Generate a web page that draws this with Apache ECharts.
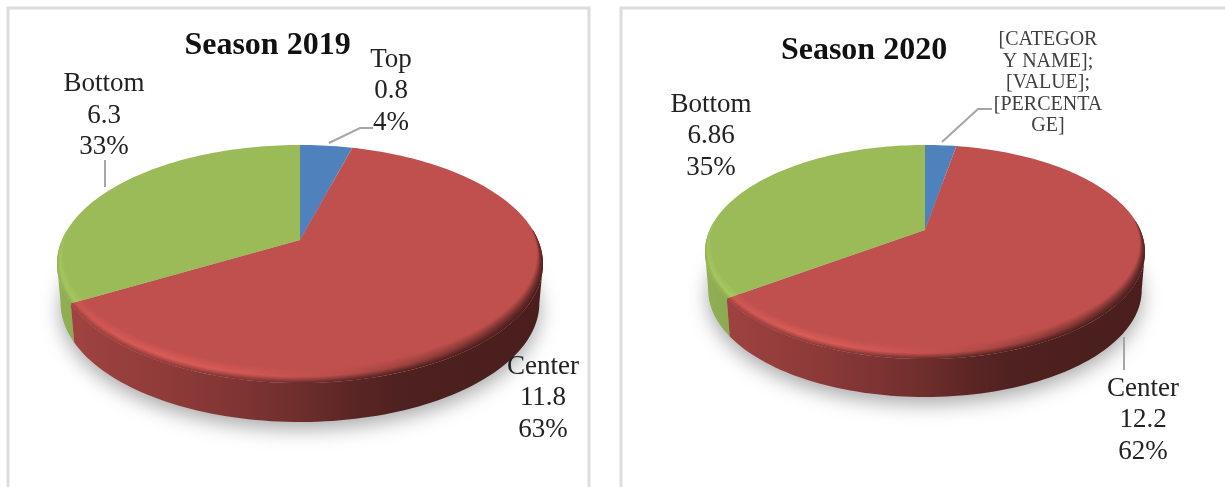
<!DOCTYPE html>
<html><head><meta charset="utf-8">
<style>html,body{margin:0;padding:0;background:#fff}#c{width:1225px;height:487px}</style>
<script src="https://cdn.jsdelivr.net/npm/echarts@6/dist/echarts.min.js"></script>
</head><body><div id="c"></div>
<script>
const categories = ['Top', 'Center', 'Bottom'];
const values2019 = [0.8, 11.8, 6.3];
const values2020 = [0.55, 12.2, 6.86];
const percents2019 = ['4%', '63%', '33%'];
const percents2020 = ['3%', '62%', '35%'];
const valueText2019 = ['0.8', '11.8', '6.3'];
const valueText2020 = ['[VALUE]', '12.2', '6.86'];
const placeholderLabel = '[CATEGOR\nY NAME];\n[VALUE];\n[PERCENTA\nGE]';
const sliceColors = ['#4f81bd', '#c0504d', '#9bbb59'];

const panels = [
  { title:'Season 2019', titleX:262.5, titleY:25, values:values2019, vt:valueText2019, pc:percents2019,
    cx:300, cy:240, rx:243, back:95, front:143, depth:39,
    labels:[{x:391,y:91},{x:543,y:398},{x:104,y:115.5}],
    leaders:[[[329,143],[360,128],[373,128]], null, [[105,160],[105,187]]] },
  { title:'Season 2020', titleX:859, titleY:30, values:values2020, vt:valueText2020, pc:percents2020,
    cx:925, cy:230, rx:220, back:85, front:129, depth:38, placeholderTop:true,
    labels:[{x:1048,y:83},{x:1143,y:420},{x:711,y:136}],
    leaders:[[[942,142],[978,109],[992,109]], [[1124,337],[1124,370]], null] }
];

const sideStops = [[0,.85],[.15,.78],[.35,.68],[.5,.57],[.62,.46],[.72,.40],[1,.38]];
const highStops = [[0,1.05],[.1,1.1],[.25,1.16],[.45,1.06],[.6,.95],[.75,.78],[.9,.6],[1,.55]];
const RAD = Math.PI/180, STEP = 1.5, BEVEL = 0.085, LAYERS = 18;

function interp(st, p){
  for(let i=1;i<st.length;i++) if(p<=st[i][0]){
    const a=st[i-1],b=st[i]; return a[1]+(b[1]-a[1])*(p-a[0])/(b[0]-a[0]);
  }
  return st[st.length-1][1];
}
function shade(hex,f){
  const n=parseInt(hex.slice(1),16);
  const c=[n>>16,(n>>8)&255,n&255].map(v=>Math.min(255,Math.round(v*f)));
  return 'rgb('+c.join(',')+')';
}
function geom(p){
  const k=(p.front-p.back)/(p.front+p.back);
  return {k, a:p.back*(1+k), b:p.rx*Math.sqrt(1-k*k)};
}
function proj(p,g,rho,deg){
  const u=rho*Math.sin(deg*RAD), v=rho*Math.cos(deg*RAD), d=1+g.k*v;
  return [p.cx+g.b*u/d, p.cy-g.a*v/d];
}
function weight(deg){
  const v=Math.cos(deg*RAD);
  return Math.max(0,Math.min(1,(0.15-v)/1.15));
}
function angles(from,to){
  const out=[]; for(let d=from;d<to;d+=STEP) out.push(d); out.push(to); return out;
}
function grad(p,fn,base){
  const xs=[0,.1,.2,.3,.4,.5,.6,.7,.8,.9,1];
  return {type:'linear',global:true,x:p.cx-p.rx,y:0,x2:p.cx+p.rx,y2:0,
    colorStops:xs.map(o=>({offset:o,color:shade(base,fn(o))}))};
}
function renderSlice(p){
  return function(params,api){
    const i=params.dataIndex, g=geom(p);
    const total=p.values.reduce((s,v)=>s+v,0);
    let start=0; for(let j=0;j<i;j++) start+=p.values[j]/total*360;
    const end=start+api.value(0)/total*360, base=sliceColors[i];
    const boost=i===2?1.1:1;
    const kids=[];
    // soft floor shadow
    if(i===0){
      const pts=angles(0,360).map(d=>{const q=proj(p,g,1,d);return [p.cx+(q[0]-p.cx)*.985,q[1]+p.depth];});
      kids.push({type:'polygon',z2:1,shape:{points:pts},
        style:{fill:'#bdbdbd',shadowBlur:20,shadowColor:'rgba(0,0,0,.34)',shadowOffsetY:7}});
    }
    // side wall
    const right=Math.acos(-g.k)/RAD, left=360-right;
    const s0=Math.max(start,right), s1=Math.min(end,left);
    if(s1>s0){
      const top=angles(s0,s1).map(d=>proj(p,g,1,d));
      const bot=top.map(q=>[p.cx+(q[0]-p.cx)*.985,q[1]+p.depth]).reverse();
      kids.push({type:'polygon',z2:3+(i===1?1:0),shape:{points:top.concat(bot)},
        style:{fill:grad(p,o=>interp(sideStops,o)*boost,base)}});
    }
    // flat top face
    const face=[[p.cx,p.cy]].concat(angles(start,end).map(d=>proj(p,g,1,d)));
    kids.push({type:'polygon',z2:10,shape:{points:face},style:{fill:base}});
    // rounded rim, strips from the outer edge inward
    const a0=Math.max(start,85), a1=Math.min(end,275);
    if(a1>a0){
      const arc=angles(a0,a1);
      for(let j=0;j<LAYERS;j++){
        const t=j/(LAYERS-1), tIn=Math.min(1,(j+2)/(LAYERS-1));
        const outer=arc.map(d=>proj(p,g,1-BEVEL*t*weight(d),d));
        const inner=arc.map(d=>proj(p,g,1-BEVEL*tIn*weight(d),d)).reverse();
        const f=o=>{
          const sd=interp(sideStops,o)*boost, hi=interp(highStops,o);
          return t<.4 ? sd+(hi-sd)*t/.4 : hi+(1-hi)*(t-.4)/.6;
        };
        kids.push({type:'polygon',z2:11+j,shape:{points:outer.concat(inner)},style:{fill:grad(p,f,base)}});
      }
    }
    // leader line
    const ld=p.leaders[i];
    if(ld) kids.push({type:'polyline',z2:40,shape:{points:ld},style:{stroke:'#a6a6a6',lineWidth:2,fill:null}});
    // data label
    const ph=p.placeholderTop&&i===0;
    kids.push({type:'text',z2:50,style:{
      x:p.labels[i].x,y:p.labels[i].y,align:'center',verticalAlign:'middle',
      text:ph?placeholderLabel:[categories[i],p.vt[i],p.pc[i]].join('\n'),
      fill:ph?'#404040':'#222222',
      font:(ph?'20px':'27px')+' "Liberation Serif"',
      lineHeight:ph?21.5:31.5}});
    return {type:'group',children:kids};
  };
}
const chart=echarts.init(document.getElementById('c'),null,{renderer:'canvas'});
chart.setOption({
  animation:false,backgroundColor:'#ffffff',
  title:panels.map(p=>({text:p.title,left:p.titleX,top:p.titleY,textAlign:'center',
    textStyle:{fontFamily:'Liberation Serif',fontWeight:'bold',fontSize:32,color:'#111111'}})),
  graphic:[
    {type:'rect',z:-1,shape:{x:8,y:8,width:581,height:500},style:{fill:'#fff',stroke:'#dcdcdc',lineWidth:3}},
    {type:'rect',z:-1,shape:{x:621,y:8,width:700,height:500},style:{fill:'#fff',stroke:'#dcdcdc',lineWidth:3}}
  ],
  series:panels.map(p=>({type:'custom',name:p.title,coordinateSystem:'none',
    renderItem:renderSlice(p),
    data:p.values.map((v,i)=>({name:categories[i],value:[v]}))}))
});
</script></body></html>
